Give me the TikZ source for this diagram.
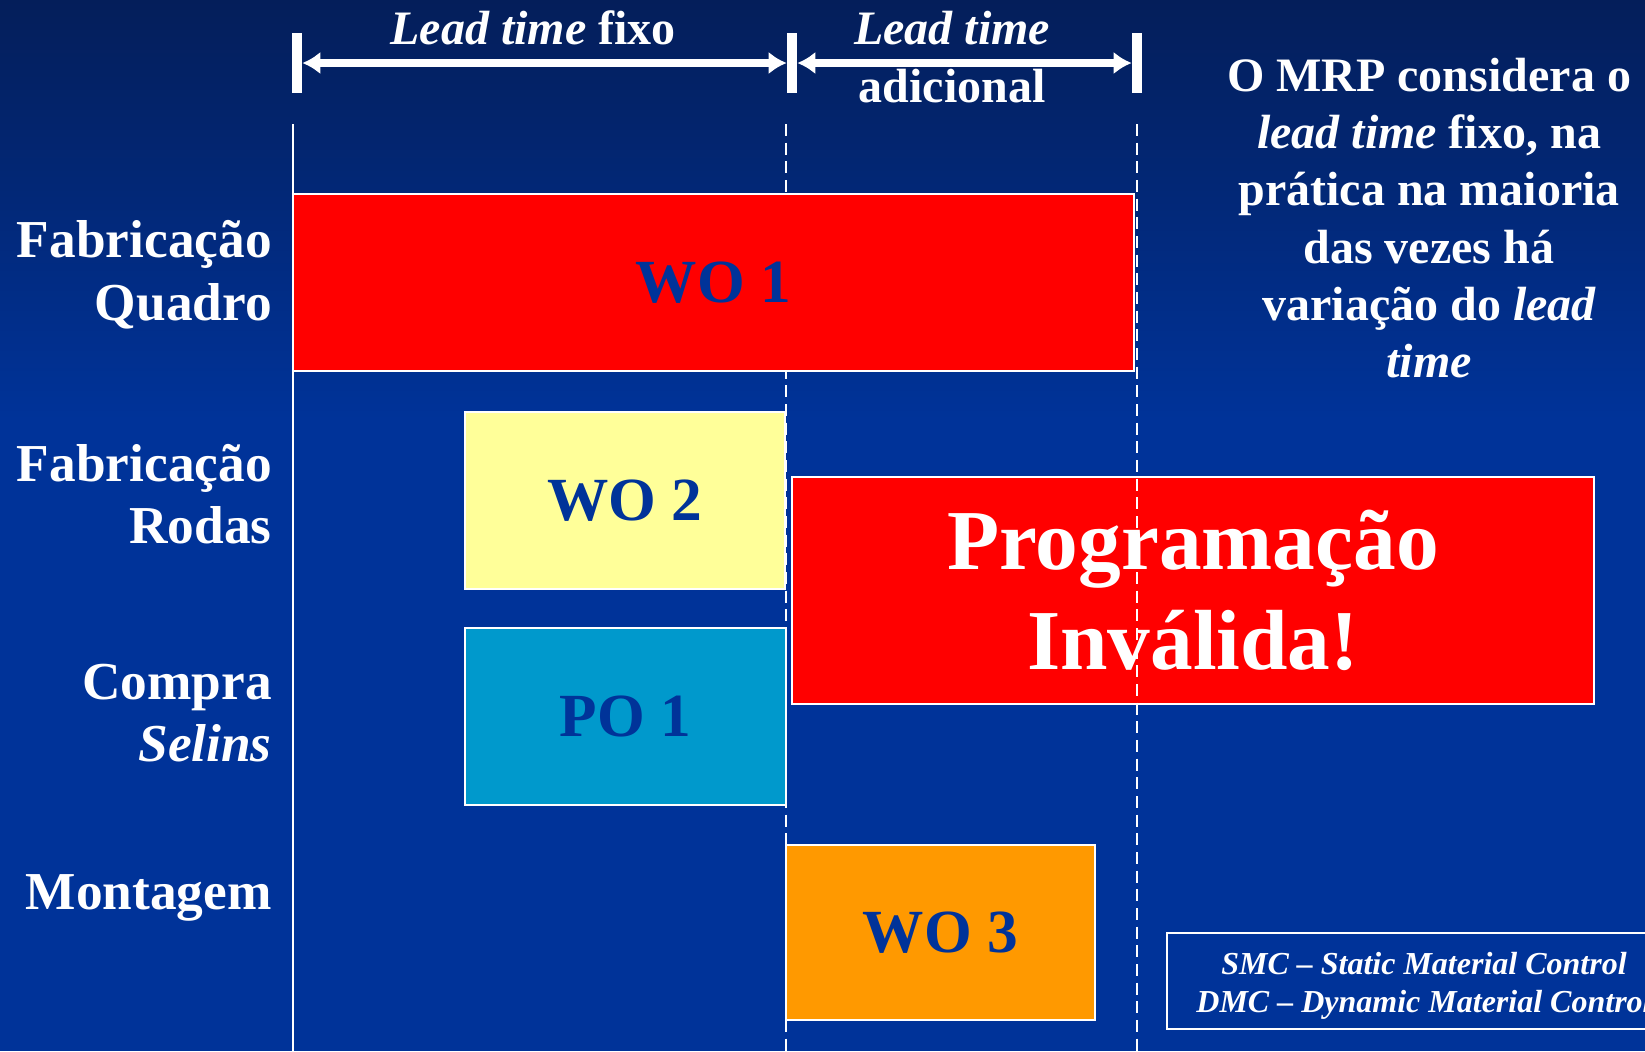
\documentclass[tikz,border=0pt]{standalone}
\usepackage{fontspec}
\setmainfont{Liberation Serif}
\usetikzlibrary{arrows.meta, positioning}
\definecolor{bgtop}{RGB}{4,30,90}
\definecolor{bgblue}{RGB}{0,51,153}
\definecolor{wored}{RGB}{255,0,0}
\definecolor{woyellow}{RGB}{255,255,153}
\definecolor{pocyan}{RGB}{0,153,204}
\definecolor{woorange}{RGB}{255,153,0}
\definecolor{wotext}{RGB}{0,51,153}
\newcommand{\ital}[1]{{\bfseries\itshape #1}}
\tikzstyle{block}=[draw=white,line width=1.5pt,rectangle,inner sep=0pt,text=wotext,font=\fontsize{46}{55}\selectfont\bfseries]
\tikzstyle{row}=[anchor=east,align=right,text=white,inner sep=0pt,font=\fontsize{40}{47}\selectfont\bfseries]
\tikzstyle{guide}=[white,line width=1.5pt,dash pattern=on 9pt off 5pt]
\tikzstyle{tick}=[white,line width=8pt]
\tikzstyle{span}=[white,line width=6pt,{Latex[length=13.5pt,width=17pt]}-{Latex[length=13.5pt,width=17pt]},shorten <=4pt,shorten >=4pt]

\begin{document}
\begin{tikzpicture}[x=0.75pt,y=-0.75pt]
    \useasboundingbox (0,0) rectangle (1645,1051);
    \clip (0,0) rectangle (1645,1051);
    \shade[top color=bgtop,bottom color=bgblue] (0,0) rectangle (1645,420);
    \fill[bgblue] (0,419) rectangle (1645,1051);
    % time axis
    \coordinate (k0) at (297,63);
    \coordinate (k1) at (792,63);
    \coordinate (k2) at (1137,63);
    \foreach \k in {k0,k1,k2}
        \draw[tick] (\k) ++(0,-30) -- ++(0,60);
    \draw[span] (k0) -- (k1);
    \draw[span] (k1) -- (k2);
    \node[text=white,font=\fontsize{36}{43}\selectfont\bfseries] (fixo) at (533,28) {\ital{Lead time} fixo};
    \node[text=white,align=center,font=\fontsize{36}{43}\selectfont\bfseries] (extra) at (952,57) {\ital{Lead time}\\adicional};
    % guides
    \coordinate (g0) at (293,124); \coordinate (g0b) at (293,1051);
    \coordinate (g1) at (786,124); \coordinate (g1b) at (786,1051);
    \coordinate (g2) at (1137,124); \coordinate (g2b) at (1137,1051);
    \draw[white,line width=1.5pt] (g0) -- (g0b);
    \draw[guide] (g1) -- (g1b);
    % orders
    \node[block,fill=wored,minimum width=630.75pt,minimum height=132.75pt] (wo1) at (713.5,282.5) {WO 1};
    \node[block,fill=woyellow,minimum width=240pt,minimum height=132.75pt] (wo2) at (625,500.5) {WO 2};
    \node[block,fill=pocyan,minimum width=240.75pt,minimum height=132.75pt] (po1) at (625.5,716.5) {PO 1};
    \node[block,fill=woorange,minimum width=231.75pt,minimum height=131.25pt] (wo3) at (940.5,932.5) {WO 3};
    \node[block,fill=wored,text=white,align=center,minimum width=601.5pt,minimum height=170.25pt,font=\fontsize{64}{75}\selectfont\bfseries] (prog) at (1193,590.5) {Programação\\Inválida!};
    \draw[guide] (g2) -- (g2b);
    % rows
    \node[row] (quadro) at (272,275) {Fabricação\\Quadro};
    \node[row] (rodas) at (272,494) {Fabricação\\Rodas};
    \node[row] (selins) at (272,713) {Compra\\\ital{Selins}};
    \node[row] (montagem) at (272,898) {Montagem};
    % note and legend
    \node[text=white,align=center,font=\fontsize{36}{43}\selectfont\bfseries] (note) at (1429,218) {O MRP considera o\\\ital{lead time} fixo, na\\prática na maioria\\das vezes há\\variação do \ital{lead}\\\ital{time}};
    \draw[white,line width=1.2pt] (1167,933) rectangle (1700,1029);
    \node[text=white,align=center,font=\fontsize{24}{28.5}\selectfont\bfseries\itshape] (legend) at (1424,986) {SMC -- Static Material Control\\DMC -- Dynamic Material Control};
\end{tikzpicture}
\end{document}
